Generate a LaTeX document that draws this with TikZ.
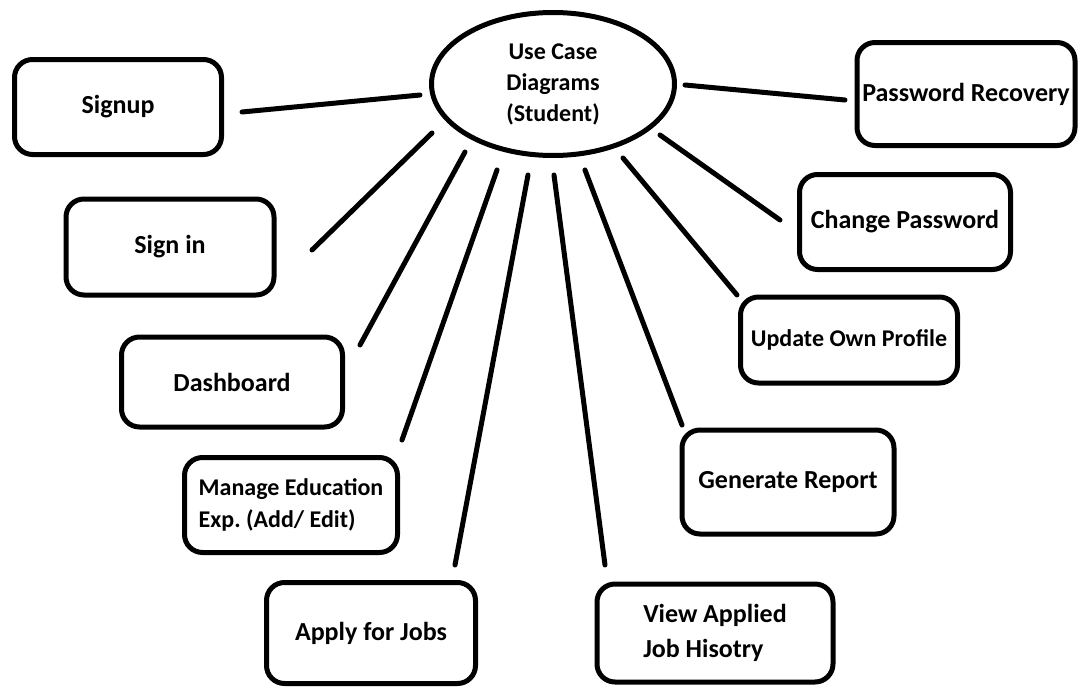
\documentclass[tikz,border=0pt]{standalone}
\usepackage{fontspec}
\setmainfont{Carlito}
\usetikzlibrary{shapes.geometric, calc}
\frenchspacing

\begin{document}
\begin{tikzpicture}[x=1pt, y=-1pt, line width=5pt,
  case/.style={draw, rounded corners=18pt, inner sep=0pt, align=center, font=\bfseries\fontsize{26}{35}\selectfont},
  link/.style={line cap=round}]
\useasboundingbox (0,0) rectangle (1080,688);
\node[draw, ellipse, minimum width=243pt, minimum height=143pt, inner sep=0pt, align=center, font=\bfseries\fontsize{24}{31}\selectfont](uc) at (553,84){Use Case\\Diagrams\\(Student)};
\node[case, minimum width=207pt, minimum height=95pt](signup) at (118,107){Signup};
\node[case, minimum width=208pt, minimum height=96pt](signin) at (170,247){Sign in};
\node[case, minimum width=221pt, minimum height=90pt](dash) at (232,382){Dashboard};
\node[case, minimum width=213pt, minimum height=95pt, align=left, font=\bfseries\fontsize{24}{32}\selectfont](edu) at (291,505){Manage Education\\Exp. (Add/ Edit)};
\node[case, minimum width=209pt, minimum height=101pt](apply) at (371,633){Apply for Jobs};
\node[case, minimum width=236pt, minimum height=98pt, align=left](hist) at (715,633){View Applied\\Job Hisotry};
\node[case, minimum width=212pt, minimum height=104pt](report) at (788,482){Generate Report};
\node[case, minimum width=217pt, minimum height=86pt, font=\bfseries\fontsize{24}{30}\selectfont](profile) at (849,340){Update Own Profile};
\node[case, minimum width=211pt, minimum height=95pt](chpass) at (905,222){Change Password};
\node[case, minimum width=218pt, minimum height=103pt](recover) at (966,94){Password Recovery};
\draw[link] ($(signup)+(124,5)$) -- ($(uc)+(-133,11)$);
\draw[link] ($(signin)+(142,3)$) -- ($(uc)+(-121,49)$);
\draw[link] ($(dash)+(128,-37)$) -- ($(uc)+(-88,68)$);
\draw[link] ($(edu)+(111,-65)$) -- ($(uc)+(-56,86)$);
\draw[link] ($(apply)+(84,-68)$) -- ($(uc)+(-25,91)$);
\draw[link] ($(hist)+(-110,-68)$) -- ($(uc)+(1,91)$);
\draw[link] ($(report)+(-106,-57)$) -- ($(uc)+(32,86)$);
\draw[link] ($(profile)+(-112,-45)$) -- ($(uc)+(70,74)$);
\draw[link] ($(chpass)+(-125,-2)$) -- ($(uc)+(107,51)$);
\draw[link] ($(recover)+(-121,6)$) -- ($(uc)+(132,1)$);
\end{tikzpicture}
\end{document}
